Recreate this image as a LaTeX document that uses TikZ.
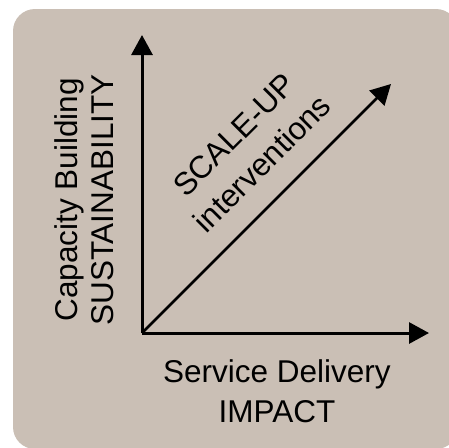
\documentclass[tikz,border=0pt]{standalone}
\usepackage{fontspec}
\setmainfont{Liberation Sans}
\usetikzlibrary{arrows.meta}
\definecolor{panel}{RGB}{202,191,181}
\tikzset{
  axis/.style={line width=3pt, -{Triangle[length=20pt,width=21pt]}},
  diag/.style={line width=2.5pt, -{Triangle[length=20pt,width=21pt]}},
  lbl/.style={anchor=base, inner sep=0pt, align=center},
  lblfont/.style={font=\fontsize{31.5}{#1}\selectfont}
}
\begin{document}
\begin{tikzpicture}[x=1pt,y=-1pt]
  \useasboundingbox (0,0) rectangle (449,447);
  % panel
  \fill[panel, rounded corners=22pt] (13,9) rectangle (458,449);
  % axes
  \coordinate (O) at (142,333);
  \coordinate (Ytip) at (142,35);
  \coordinate (Xtip) at (429,333);
  \coordinate (Dtip) at (391,84);
  \draw[axis] (O) -- (Ytip);
  \draw[axis] (O) -- (Xtip);
  \draw[diag] (O) -- (Dtip);
  % labels (base anchor sits on the baseline of the last line)
  \node[lbl, lblfont=40] (xlabel) at (277,422) {Service Delivery\\IMPACT};
  \node[lbl, lblfont=36, rotate=90] (ylabel) at (113,200) {Capacity Building\\SUSTAINABILITY};
  \node[lbl, lblfont=40, rotate=45] (dlabel) at (270,171) {SCALE-UP\\interventions};
\end{tikzpicture}
\end{document}
